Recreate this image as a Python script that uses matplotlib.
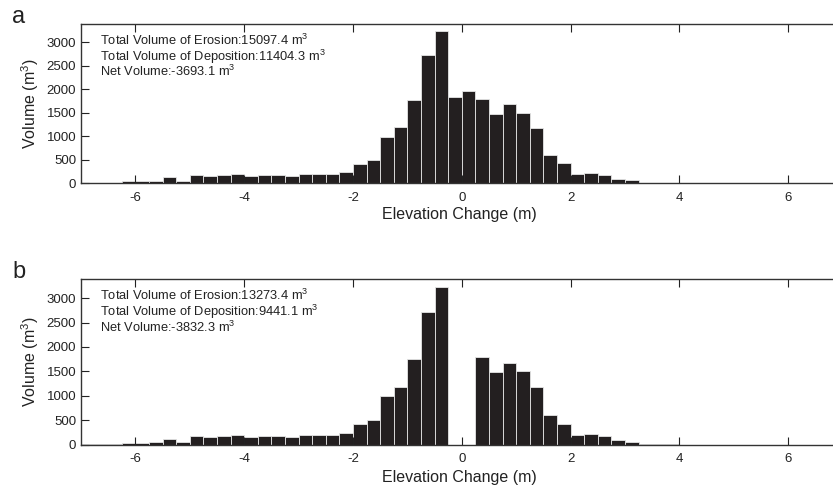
import numpy as np
import matplotlib
matplotlib.use("Agg")
import matplotlib.pyplot as plt

plt.rcParams['font.family'] = ['Liberation Sans', 'DejaVu Sans']
plt.rcParams['mathtext.default'] = 'regular'
plt.rcParams['axes.unicode_minus'] = False

# histogram bins of 0.25 m, left edges from -7 m
bin_width = 0.25
bin_edges = np.arange(-7, 7, bin_width)

# volumes per bin (m^3), panel a
vol_a = [5, 8, 10, 40, 45, 55, 125, 55, 180, 150,
         170, 190, 165, 185, 185, 165, 200, 200, 190, 230,
         420, 505, 990, 1190, 1760, 2720, 3230, 1830, 1970, 1795,
         1480, 1675, 1500, 1185, 610, 430, 205, 228, 175, 100,
         62, 8, 6, 5, 4, 3, 3, 2, 2, 2,
         1, 1, 1, 1, 1, 1]
# panel b: same but the two bins around zero removed
vol_b = [5, 8, 10, 40, 45, 55, 125, 55, 180, 150,
         170, 190, 165, 185, 185, 165, 200, 200, 190, 230,
         420, 505, 990, 1190, 1760, 2720, 3230, 0, 0, 1795,
         1480, 1675, 1500, 1185, 610, 430, 205, 228, 175, 100,
         62, 8, 6, 5, 4, 3, 3, 2, 2, 2,
         1, 1, 1, 1, 1, 1]

notes_a = ["Total Volume of Erosion:15097.4 m$^3$",
           "Total Volume of Deposition:11404.3 m$^3$",
           "Net Volume:-3693.1 m$^3$"]
notes_b = ["Total Volume of Erosion:13273.4 m$^3$",
           "Total Volume of Deposition:9441.1 m$^3$",
           "Net Volume:-3832.3 m$^3$"]

xticks = [-6, -4, -2, 0, 2, 4, 6]
yticks = [0, 500, 1000, 1500, 2000, 2500, 3000]

W, H = 833, 490
fig = plt.figure(figsize=(W / 100, H / 100), dpi=100)

# axes boxes in pixels: left, top, bottom (right runs past the image edge)
boxes = [(81, 24, 183.3), (81, 279.3, 444.7)]
right_px = 842.5

for i, (vals, notes, letter) in enumerate([(vol_a, notes_a, 'a'), (vol_b, notes_b, 'b')]):
    left, top, bottom = boxes[i]
    ax = fig.add_axes([left / W, 1 - bottom / H, (right_px - left) / W, (bottom - top) / H])
    ax.bar(bin_edges, vals, width=bin_width, align='edge', color='#231f20',
           edgecolor='#e6e6e6', linewidth=0.6)
    ax.set_xlim(-7, 7)
    ax.set_ylim(0, 3385)
    ax.set_xticks(xticks)
    ax.set_yticks(yticks)
    ax.tick_params(axis='x', direction='in', top=True, bottom=True, length=6,
                   width=0.8, pad=6, labelsize=9.5, colors='#222222')
    ax.tick_params(axis='y', direction='in', left=True, right=False, length=6,
                   width=0.8, pad=3.5, labelsize=9.5, colors='#222222')
    for s in ax.spines.values():
        s.set_color('#333333')
        s.set_linewidth(1.0)
    ax.set_xlabel('Elevation Change (m)', fontsize=11.5, color='#222222', labelpad=3)
    ax.xaxis.set_label_coords((459.5 - left) / (right_px - left), -0.15)
    ax.set_ylabel('Volume (m$^3$)', fontsize=11.5, color='#222222', labelpad=4)
    # three note lines, baselines 15.7 px apart
    for k, line in enumerate(notes):
        base_px = top + 21 + 15.7 * k
        ax.text(0.025, (bottom - base_px) / (bottom - top), line, transform=ax.transAxes,
                va='baseline', ha='left', fontsize=9.3, color='#222222')
    fig.text(12 / W, 1 - (top - 1) / H, letter, fontsize=17, color='#222222',
             ha='left', va='baseline')

fig.savefig('out.png', dpi=100)
